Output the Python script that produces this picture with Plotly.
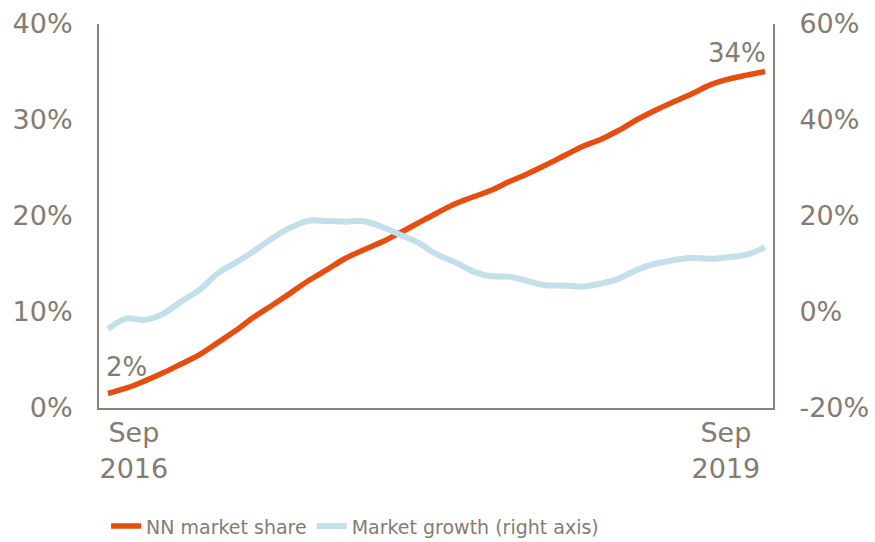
import plotly.graph_objects as go

month_index = list(range(37))  # Sep 2016 ... Sep 2019, monthly

nn_market_share = [1.51, 2.06, 2.80, 3.64, 4.58, 5.53, 6.78, 8.06, 9.47, 10.70,
                   11.97, 13.28, 14.41, 15.57, 16.46, 17.28, 18.25, 19.27, 20.29, 21.25,
                   21.98, 22.68, 23.59, 24.40, 25.32, 26.28, 27.24, 27.98, 28.93, 30.05,
                   31.02, 31.89, 32.73, 33.66, 34.25, 34.67, 35.05]

market_growth = [-3.56, -1.37, -1.64, -0.44, 2.16, 4.56, 7.99, 10.28, 12.67, 15.38,
                 17.57, 19.02, 18.96, 18.81, 18.92, 17.77, 16.11, 14.44, 12.05, 10.39,
                 8.47, 7.43, 7.37, 6.43, 5.56, 5.54, 5.29, 5.91, 6.95, 8.82,
                 10.07, 10.80, 11.32, 11.11, 11.43, 11.95, 13.47]

tick_positions = [1.42, 33.86]
tick_labels = ["Sep<br>2016", "Sep<br>2019"]

left_ticks = [0, 10, 20, 30, 40]
left_labels = ["0%", "10%", "20%", "30%", "40%"]
right_ticks = [-20, 0, 20, 40, 60]
right_labels = ["-20%", "0%", "20%", "40%", "60%"]

TXT = "#857B72"
AX = "#8A8179"
ORANGE = "#E64D0E"
BLUE = "#C3DFEA"
FONT = "DejaVu Sans, Verdana, sans-serif"

fig = go.Figure()
fig.add_trace(go.Scatter(x=month_index, y=market_growth, name="Market growth (right axis)",
                         mode="lines", line=dict(color=BLUE, width=6, shape="spline"),
                         yaxis="y2"))
fig.add_trace(go.Scatter(x=month_index, y=nn_market_share, name="NN market share",
                         mode="lines", line=dict(color=ORANGE, width=5.5, shape="spline"),
                         yaxis="y"))

fig.update_layout(
    width=875, height=542,
    margin=dict(l=99, r=102, t=24, b=134, autoexpand=False),
    paper_bgcolor="white", plot_bgcolor="white",
    font=dict(family=FONT, color=TXT, size=26),
    showlegend=True,
    legend=dict(orientation="h", x=0.0105, xanchor="left", y=-0.308, yanchor="middle",
                font=dict(size=19, color=TXT), traceorder="reversed",
                itemwidth=30, bgcolor="rgba(0,0,0,0)"),
    xaxis=dict(range=[-0.49, 36.44], showgrid=False, zeroline=False, automargin=False,
               showline=True, linecolor=AX, linewidth=2,
               tickmode="array", tickvals=tick_positions, ticktext=tick_labels,
               ticks="", tickfont=dict(size=27, color=TXT)),
    yaxis=dict(range=[0, 40], tickmode="array", tickvals=left_ticks, ticktext=left_labels,
               showgrid=False, zeroline=False, automargin=False,
               showline=True, linecolor=AX, linewidth=2, ticks="",
               ticklabelstandoff=19, tickfont=dict(size=27, color=TXT)),
    yaxis2=dict(range=[-20, 60], tickmode="array", tickvals=right_ticks, ticktext=right_labels,
                overlaying="y", side="right", automargin=False,
                showgrid=False, zeroline=False, showline=True, linecolor=AX, linewidth=2,
                ticks="", ticklabelstandoff=19, tickfont=dict(size=27, color=TXT)),
    annotations=[
        dict(x=month_index[0], y=4.3, xref="x", yref="y", text="2%", showarrow=False,
             xanchor="left", yanchor="middle", xshift=-4, font=dict(size=26, color=TXT)),
        dict(x=month_index[-1], y=37.0, xref="x", yref="y", text="34%", showarrow=False,
             xanchor="right", yanchor="middle", xshift=3, font=dict(size=26, color=TXT)),
    ],
)

fig.write_html("out.html", config={"displayModeBar": False},
               post_script="document.body.style.margin='0';document.body.style.overflow='hidden';")
